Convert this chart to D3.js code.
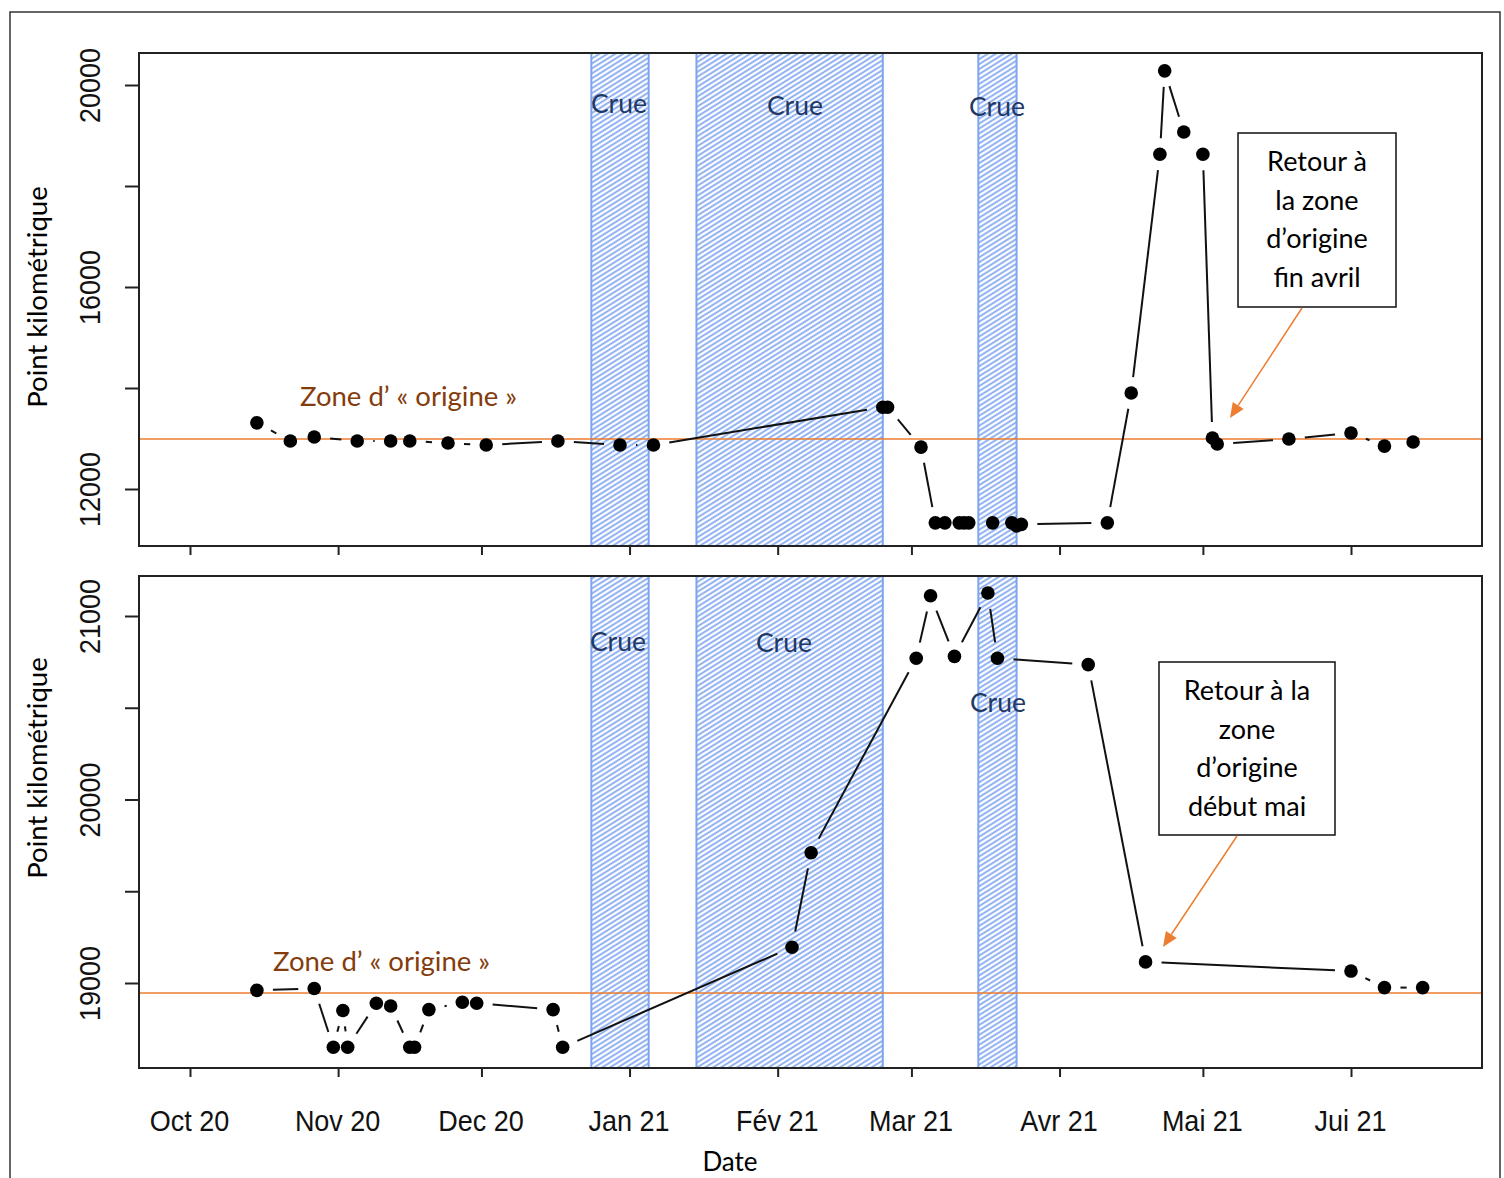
<!DOCTYPE html>
<html>
<head>
<meta charset="utf-8">
<script src="https://cdn.jsdelivr.net/npm/d3@7"></script>
<style>
  body { margin: 0; background: #fff; }
  svg { display: block; }
</style>
</head>
<body>
<div class="graphic"></div>
<script>
// values
const topDates = ['2020-10-15', '2020-10-22', '2020-10-27', '2020-11-05', '2020-11-12', '2020-11-16', '2020-11-24',
  '2020-12-02', '2020-12-17', '2020-12-30', '2021-01-06', '2021-02-23', '2021-02-24', '2021-03-03', '2021-03-06',
  '2021-03-08', '2021-03-11', '2021-03-12', '2021-03-13', '2021-03-18', '2021-03-22', '2021-03-23', '2021-03-24',
  '2021-04-11', '2021-04-16', '2021-04-22', '2021-04-23', '2021-04-27', '2021-05-01', '2021-05-03', '2021-05-04',
  '2021-05-19', '2021-06-01', '2021-06-08', '2021-06-14'];
const topValues = [13310, 12950, 13030, 12950, 12950, 12950, 12910, 12870, 12950, 12870, 12870, 13620, 13620, 12830,
  11330, 11330, 11330, 11330, 11330, 11330, 11330, 11270, 11300, 11330, 13900, 18630, 20280, 19070, 18630, 13010,
  12890, 12990, 13110, 12850, 12930];

const botDates = ['2020-10-15', '2020-10-27', '2020-10-31', '2020-11-02', '2020-11-03', '2020-11-09', '2020-11-12',
  '2020-11-16', '2020-11-17', '2020-11-20', '2020-11-27', '2020-11-30', '2020-12-16', '2020-12-18', '2021-02-04',
  '2021-02-08', '2021-03-02', '2021-03-05', '2021-03-10', '2021-03-17', '2021-03-19', '2021-04-07', '2021-04-19',
  '2021-06-01', '2021-06-08', '2021-06-16'];
const botValues = [18960, 18970, 18650, 18850, 18650, 18890, 18875, 18650, 18650, 18855, 18895, 18890, 18855, 18650,
  19195, 19710, 20770, 21110, 20780, 21125, 20770, 20735, 19115, 19065, 18975, 18975];

const crueStart = ['2020-12-24', '2021-01-15', '2021-03-15'];
const crueEnd = ['2021-01-05', '2021-02-23', '2021-03-23'];

const monthTicks = ['2020-10-01', '2020-11-01', '2020-12-01', '2021-01-01', '2021-02-01', '2021-03-01',
  '2021-04-01', '2021-05-01', '2021-06-01'];
const monthLabels = ['Oct 20', 'Nov 20', 'Dec 20', 'Jan 21', 'Fév 21', 'Mar 21', 'Avr 21', 'Mai 21', 'Jui 21'];

const topTicks = [12000, 14000, 16000, 18000, 20000];
const topTickLabels = ['12000', '', '16000', '', '20000'];
const botTicks = [19000, 19500, 20000, 20500, 21000];
const botTickLabels = ['19000', '', '20000', '', '21000'];

const topOrigine = 12990;
const botOrigine = 18945;

const parse = d3.utcParse('%Y-%m-%d');

const width = 1504, height = 1178;
const svg = d3.select('.graphic').append('svg')
  .attr('width', width)
  .attr('height', height);

const defs = svg.append('defs');
const pat = defs.append('pattern')
  .attr('id', 'hatch')
  .attr('patternUnits', 'userSpaceOnUse')
  .attr('width', 10)
  .attr('height', 4.2)
  .attr('patternTransform', 'rotate(-32)');
pat.append('path')
  .attr('d', 'M-1,2.1H11')
  .attr('stroke', '#7da4ee')
  .attr('stroke-width', 1.7);

// outer frame
svg.append('rect')
  .attr('x', 10).attr('y', 12)
  .attr('width', 1490).attr('height', 1200)
  .attr('fill', 'none')
  .attr('stroke', '#333')
  .attr('stroke-width', 1.5);

const x = d3.scaleUtc()
  .domain([parse('2020-10-01'), parse('2021-06-01')])
  .range([190, 1351]);

const left = 139, right = 1482;
const gap = 16;
const textFont = 'Lato, "Open Sans", sans-serif';
const tickFont = '"Liberation Sans", Arial, sans-serif';

function drawPanel(p) {
  const g = svg.append('g');

  const y = d3.scaleLinear().domain(p.yDomain).range(p.yRange);

  // crue bands
  g.selectAll('rect.crue')
    .data(crueStart)
    .enter().append('rect')
    .attr('class', 'crue')
    .attr('x', function (d) { return x(parse(d)); })
    .attr('y', p.top)
    .attr('width', function (d, i) { return x(parse(crueEnd[i])) - x(parse(d)); })
    .attr('height', p.bottom - p.top)
    .attr('fill', 'url(#hatch)')
    .attr('stroke', '#7da4ee')
    .attr('stroke-width', 2);

  // zone d'origine line
  g.append('line')
    .attr('x1', left).attr('x2', right + 1)
    .attr('y1', y(p.origine)).attr('y2', y(p.origine))
    .attr('stroke', '#ed7d31')
    .attr('stroke-width', 1.5);

  const pts = p.dates.map(function (d, i) { return [x(parse(d)), y(p.values[i])]; });

  // type "b" lines: segments with a gap around each point
  for (let i = 0; i < pts.length - 1; i++) {
    const dx = pts[i + 1][0] - pts[i][0];
    const dy = pts[i + 1][1] - pts[i][1];
    const len = Math.sqrt(dx * dx + dy * dy);
    if (len > 2 * gap + 1) {
      const ux = dx / len, uy = dy / len;
      g.append('line')
        .attr('x1', pts[i][0] + ux * gap).attr('y1', pts[i][1] + uy * gap)
        .attr('x2', pts[i + 1][0] - ux * gap).attr('y2', pts[i + 1][1] - uy * gap)
        .attr('stroke', '#111')
        .attr('stroke-width', 2);
    }
  }

  g.selectAll('circle')
    .data(pts)
    .enter().append('circle')
    .attr('cx', function (d) { return d[0]; })
    .attr('cy', function (d) { return d[1]; })
    .attr('r', 6.8)
    .attr('fill', '#000');

  // box
  g.append('rect')
    .attr('x', left).attr('y', p.top)
    .attr('width', right - left).attr('height', p.bottom - p.top)
    .attr('fill', 'none')
    .attr('stroke', '#222')
    .attr('stroke-width', 2);

  // y axis
  const yAxis = g.append('g')
    .attr('transform', 'translate(' + left + ',0)')
    .call(d3.axisLeft(y).tickValues(p.yTicks).tickSize(14)
      .tickFormat(function (d, i) { return p.yTickLabels[i]; }));
  yAxis.select('.domain').remove();
  yAxis.selectAll('.tick line').attr('stroke', '#222').attr('stroke-width', 2);
  yAxis.selectAll('.tick text')
    .attr('x', null).attr('dy', null).attr('y', null)
    .attr('transform', 'translate(-39,0) rotate(-90) scale(0.9,1)')
    .attr('text-anchor', 'middle')
    .style('font-family', tickFont)
    .style('font-size', '30px')
    .attr('fill', '#111');

  // x axis
  const xAxis = g.append('g')
    .attr('transform', 'translate(0,' + p.bottom + ')')
    .call(d3.axisBottom(x).tickValues(monthTicks.map(parse)).tickSize(9)
      .tickFormat(function (d, i) { return p.showX ? monthLabels[i] : ''; }));
  xAxis.select('.domain').remove();
  xAxis.selectAll('.tick line').attr('stroke', '#222').attr('stroke-width', 2);
  xAxis.selectAll('.tick text')
    .attr('y', 63).attr('dy', null)
    .attr('transform', 'translate(-1,0) scale(0.9,1)')
    .style('font-family', tickFont)
    .style('font-size', '30px')
    .attr('fill', '#111');

  // y title
  g.append('text')
    .attr('transform', 'translate(47,' + p.titleY + ') rotate(-90)')
    .attr('text-anchor', 'middle')
    .style('font-family', textFont)
    .style('font-size', '27.5px')
    .attr('fill', '#000')
    .text('Point kilométrique');

  // crue labels
  g.selectAll('text.crue')
    .data(p.crueLabels)
    .enter().append('text')
    .attr('class', 'crue')
    .attr('x', function (d) { return d[0]; })
    .attr('y', function (d) { return d[1]; })
    .attr('text-anchor', 'middle')
    .style('font-family', textFont)
    .style('font-size', '26.5px')
    .attr('fill', '#1f3864')
    .text('Crue');

  g.append('text')
    .attr('x', p.zone[0]).attr('y', p.zone[1])
    .style('font-family', textFont)
    .style('font-size', '27.5px')
    .attr('fill', '#843c0c')
    .text('Zone d\u2019 \u00ab origine \u00bb');

  // annotation box + arrow
  const b = p.box;
  g.append('rect')
    .attr('x', b.x).attr('y', b.y)
    .attr('width', b.w).attr('height', b.h)
    .attr('fill', '#fff')
    .attr('stroke', '#111')
    .attr('stroke-width', 1.5);
  g.selectAll('text.note')
    .data(b.lines)
    .enter().append('text')
    .attr('class', 'note')
    .attr('x', b.x + b.w / 2)
    .attr('y', function (d, i) { return b.firstBase + i * 38.6; })
    .attr('text-anchor', 'middle')
    .style('font-family', textFont)
    .style('font-size', '27px')
    .attr('fill', '#000')
    .text(function (d) { return d; });

  const a = b.arrow;
  const adx = a[2] - a[0], ady = a[3] - a[1];
  const alen = Math.sqrt(adx * adx + ady * ady);
  const ux = adx / alen, uy = ady / alen;
  const hl = 15, hw = 6.5;
  const bx = a[2] - ux * hl, by = a[3] - uy * hl;
  g.append('line')
    .attr('x1', a[0]).attr('y1', a[1])
    .attr('x2', bx).attr('y2', by)
    .attr('stroke', '#ed7d31')
    .attr('stroke-width', 1.5);
  g.append('path')
    .attr('d', 'M' + a[2] + ',' + a[3] +
      'L' + (bx - uy * hw) + ',' + (by + ux * hw) +
      'L' + (bx + uy * hw) + ',' + (by - ux * hw) + 'Z')
    .attr('fill', '#ed7d31');
}

drawPanel({
  top: 53, bottom: 546,
  yDomain: [12000, 20000], yRange: [489, 85],
  yTicks: topTicks, yTickLabels: topTickLabels,
  dates: topDates, values: topValues,
  origine: topOrigine, showX: false, titleY: 297,
  crueLabels: [[619, 113], [795, 115], [997, 116]],
  zone: [300, 406],
  box: {
    x: 1238, y: 133, w: 158, h: 174, firstBase: 171,
    lines: ['Retour à', 'la zone', 'd\u2019origine', 'fin avril'],
    arrow: [1302, 308, 1230, 418]
  }
});

drawPanel({
  top: 576, bottom: 1068,
  yDomain: [19000, 21000], yRange: [983, 616],
  yTicks: botTicks, yTickLabels: botTickLabels,
  dates: botDates, values: botValues,
  origine: botOrigine, showX: true, titleY: 768,
  crueLabels: [[618, 651], [784, 652], [998, 712]],
  zone: [273, 971],
  box: {
    x: 1159, y: 662, w: 176, h: 173, firstBase: 700,
    lines: ['Retour à la', 'zone', 'd\u2019origine', 'début mai'],
    arrow: [1237, 836, 1163, 947]
  }
});

svg.append('text')
  .attr('x', 730).attr('y', 1171)
  .attr('text-anchor', 'middle')
  .style('font-family', textFont)
  .style('font-size', '26px')
  .attr('fill', '#000')
  .text('Date');
</script>
</body>
</html>
